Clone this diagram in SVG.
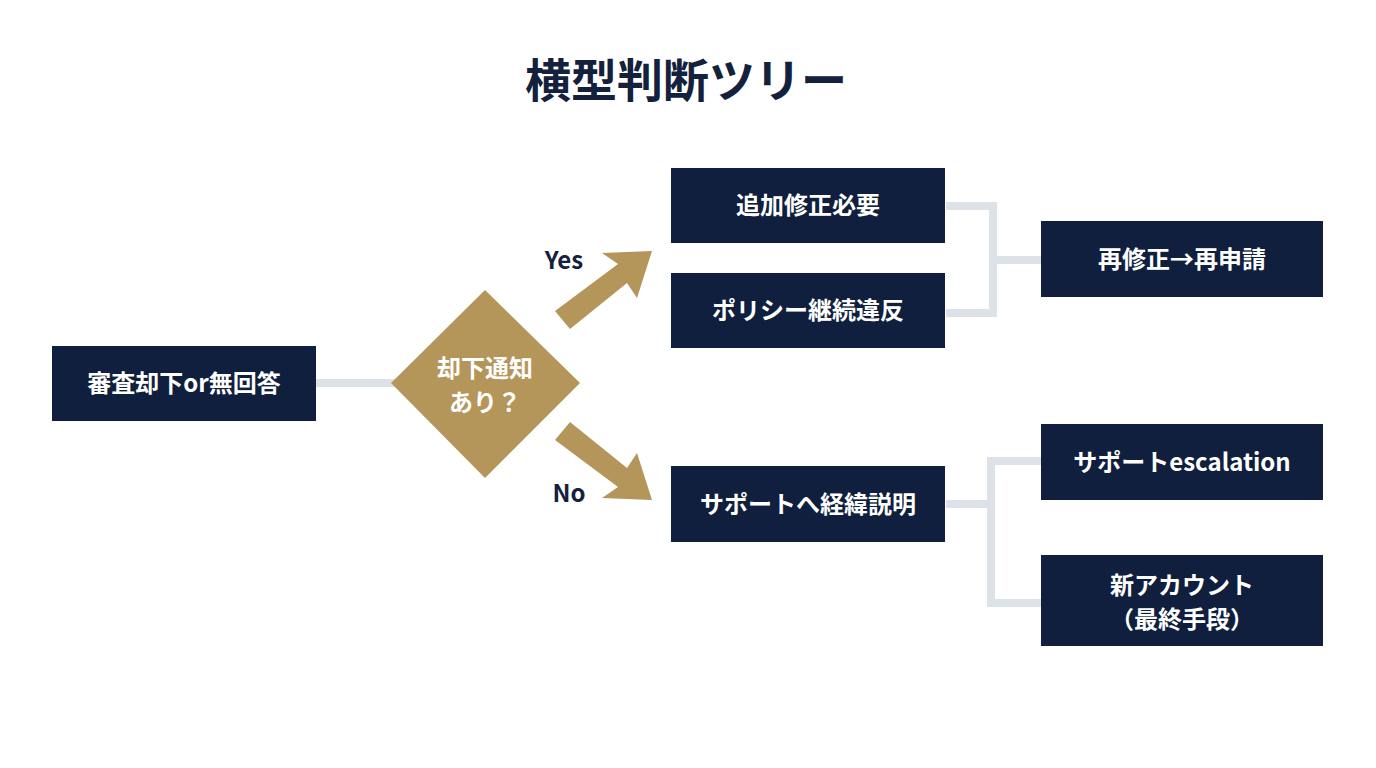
<svg xmlns="http://www.w3.org/2000/svg" width="1376" height="768" viewBox="0 0 1376 768">
<style>
text{font-family:"Noto Sans CJK JP","Noto Sans",sans-serif;font-weight:700;text-anchor:middle}
.box{fill:#0f1f3d}
.lbl{fill:#fff;font-size:24px}
.con{fill:none;stroke:#dde1e8;stroke-width:8}
.arr{fill:#b5965a}
</style>
<rect width="1376" height="768" fill="#fff"/>
<text x="686" y="97" font-size="46" fill="#14213d">横型判断ツリー</text>
<g id="connectors">
<path class="con" d="M316 383H395"/>
<path class="con" d="M946 206H993V313H946M993 260H1041"/>
<path class="con" d="M946 504H991M1041 461H991V603H1041"/>
<polygon class="arr" points="555,311 618,264 602,253 652,251 637,298 627,283 570,329"/>
<polygon class="arr" points="555,440 618,487 602,498 652,500 637,453 627,468 570,422"/>
<text x="564" y="269" font-size="24" fill="#14213d">Yes</text>
<text x="569" y="502" font-size="24" fill="#14213d">No</text>
</g>
<g id="start"><rect class="box" x="52" y="346" width="264" height="75"/><text class="lbl" x="184" y="392">審査却下or無回答</text></g>
<g id="decision"><polygon fill="#b5965a" points="485,290 580,383 485,478 391,383"/><text class="lbl" x="485" y="377">却下通知</text><text class="lbl" x="485" y="411">あり？</text></g>
<g id="n1"><rect class="box" x="671" y="168" width="274" height="75"/><text class="lbl" x="808" y="214">追加修正必要</text></g>
<g id="n2"><rect class="box" x="671" y="273" width="274" height="75"/><text class="lbl" x="808" y="319">ポリシー継続違反</text></g>
<g id="n3"><rect class="box" x="1041" y="221" width="282" height="76"/><text class="lbl" x="1182" y="268">再修正→再申請</text></g>
<g id="n4"><rect class="box" x="671" y="466" width="274" height="76"/><text class="lbl" x="808" y="513">サポートへ経緯説明</text></g>
<g id="n5"><rect class="box" x="1041" y="424" width="282" height="76"/><text class="lbl" x="1182" y="471">サポートescalation</text></g>
<g id="n6"><rect class="box" x="1041" y="555" width="282" height="91"/><text class="lbl" x="1182" y="594">新アカウント</text><text class="lbl" x="1182" y="628">（最終手段）</text></g>
</svg>
